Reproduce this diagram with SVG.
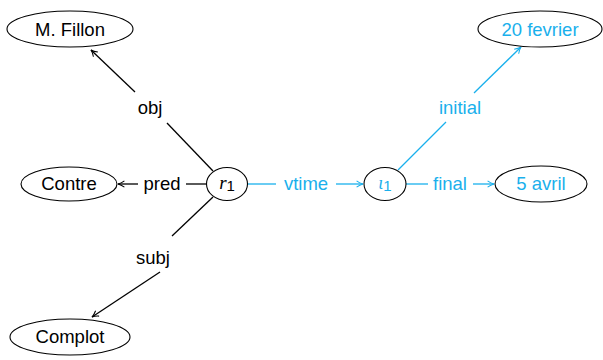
<svg xmlns="http://www.w3.org/2000/svg" width="603" height="360" viewBox="0 0 603 360">
  <style>
    .node { fill: #fff; stroke: #000; stroke-width: 1.1; }
    .lbl { font-family: "Liberation Sans", "DejaVu Sans", sans-serif; font-size: 18.5px; text-anchor: middle; }
    .blk { fill: #000; }
    .cy { fill: #1ab0ec; }
    .e { fill: none; stroke-width: 1.3; }
    .eb { stroke: #000; }
    .ec { stroke: #1ab0ec; }
  </style>
  <defs>
    <marker id="ab" viewBox="0 0 10 10" refX="9" refY="5" markerWidth="8" markerHeight="8" markerUnits="userSpaceOnUse" orient="auto">
      <path d="M1,1 Q5,4 9,5 Q5,6 1,9" fill="none" stroke="#000" stroke-width="1.3"/>
    </marker>
    <marker id="ac" viewBox="0 0 10 10" refX="9" refY="5" markerWidth="8" markerHeight="8" markerUnits="userSpaceOnUse" orient="auto">
      <path d="M1,1 Q5,4 9,5 Q5,6 1,9" fill="none" stroke="#1ab0ec" stroke-width="1.3"/>
    </marker>
  </defs>

  <g id="connectors">
    <!-- r1 -> M. Fillon (obj) -->
    <line class="e eb" x1="213" y1="171" x2="167" y2="123"/>
    <line class="e eb" x1="135" y1="92" x2="91" y2="50" marker-end="url(#ab)"/>
    <text class="lbl blk" x="150" y="114">obj</text>
    <!-- r1 -> Contre (pred) -->
    <line class="e eb" x1="206" y1="184" x2="186" y2="184"/>
    <line class="e eb" x1="138" y1="184" x2="118" y2="184" marker-end="url(#ab)"/>
    <text class="lbl blk" x="162" y="190">pred</text>
    <!-- r1 -> Complot (subj) -->
    <line class="e eb" x1="213" y1="197" x2="172" y2="236"/>
    <line class="e eb" x1="160" y1="272" x2="92" y2="317" marker-end="url(#ab)"/>
    <text class="lbl blk" x="153" y="264">subj</text>
    <!-- r1 -> iota1 (vtime) -->
    <line class="e ec" x1="248" y1="184" x2="276" y2="184"/>
    <line class="e ec" x1="336" y1="184" x2="363" y2="184" marker-end="url(#ac)"/>
    <text class="lbl cy" x="306" y="190">vtime</text>
    <!-- iota1 -> 20 fevrier (initial) -->
    <line class="e ec" x1="398" y1="170" x2="446" y2="122"/>
    <line class="e ec" x1="474" y1="93" x2="521" y2="47" marker-end="url(#ac)"/>
    <text class="lbl cy" x="460" y="114">initial</text>
    <!-- iota1 -> 5 avril (final) -->
    <line class="e ec" x1="406" y1="184" x2="428" y2="184"/>
    <line class="e ec" x1="473" y1="184" x2="494" y2="184" marker-end="url(#ac)"/>
    <text class="lbl cy" x="450" y="190">final</text>
  </g>

  <g id="fillon">
    <ellipse class="node" cx="70" cy="29" rx="63" ry="18"/>
    <text class="lbl blk" x="70" y="36">M. Fillon</text>
  </g>
  <g id="contre">
    <ellipse class="node" cx="69" cy="184" rx="48" ry="17"/>
    <text class="lbl blk" x="69" y="190">Contre</text>
  </g>
  <g id="complot">
    <ellipse class="node" cx="70" cy="337" rx="60" ry="18"/>
    <text class="lbl blk" x="70" y="343">Complot</text>
  </g>
  <g id="r1">
    <ellipse class="node" cx="227" cy="184" rx="20.5" ry="16.5"/>
    <text class="lbl blk" x="227" y="189"><tspan font-family="Liberation Serif, serif" font-style="italic" font-size="19">r</tspan><tspan font-size="15" dy="2">1</tspan></text>
  </g>
  <g id="iota1">
    <ellipse class="node" cx="385" cy="184" rx="21" ry="16.5"/>
    <text class="lbl cy" x="385" y="189"><tspan font-family="Liberation Serif, serif" font-style="italic" font-size="18">ι</tspan><tspan font-size="15" dy="2">1</tspan></text>
  </g>
  <g id="fevrier">
    <ellipse class="node" cx="540" cy="29" rx="62" ry="18"/>
    <text class="lbl cy" x="540" y="36">20 fevrier</text>
  </g>
  <g id="avril">
    <ellipse class="node" cx="541" cy="184" rx="46" ry="18"/>
    <text class="lbl cy" x="541" y="190">5 avril</text>
  </g>
</svg>
